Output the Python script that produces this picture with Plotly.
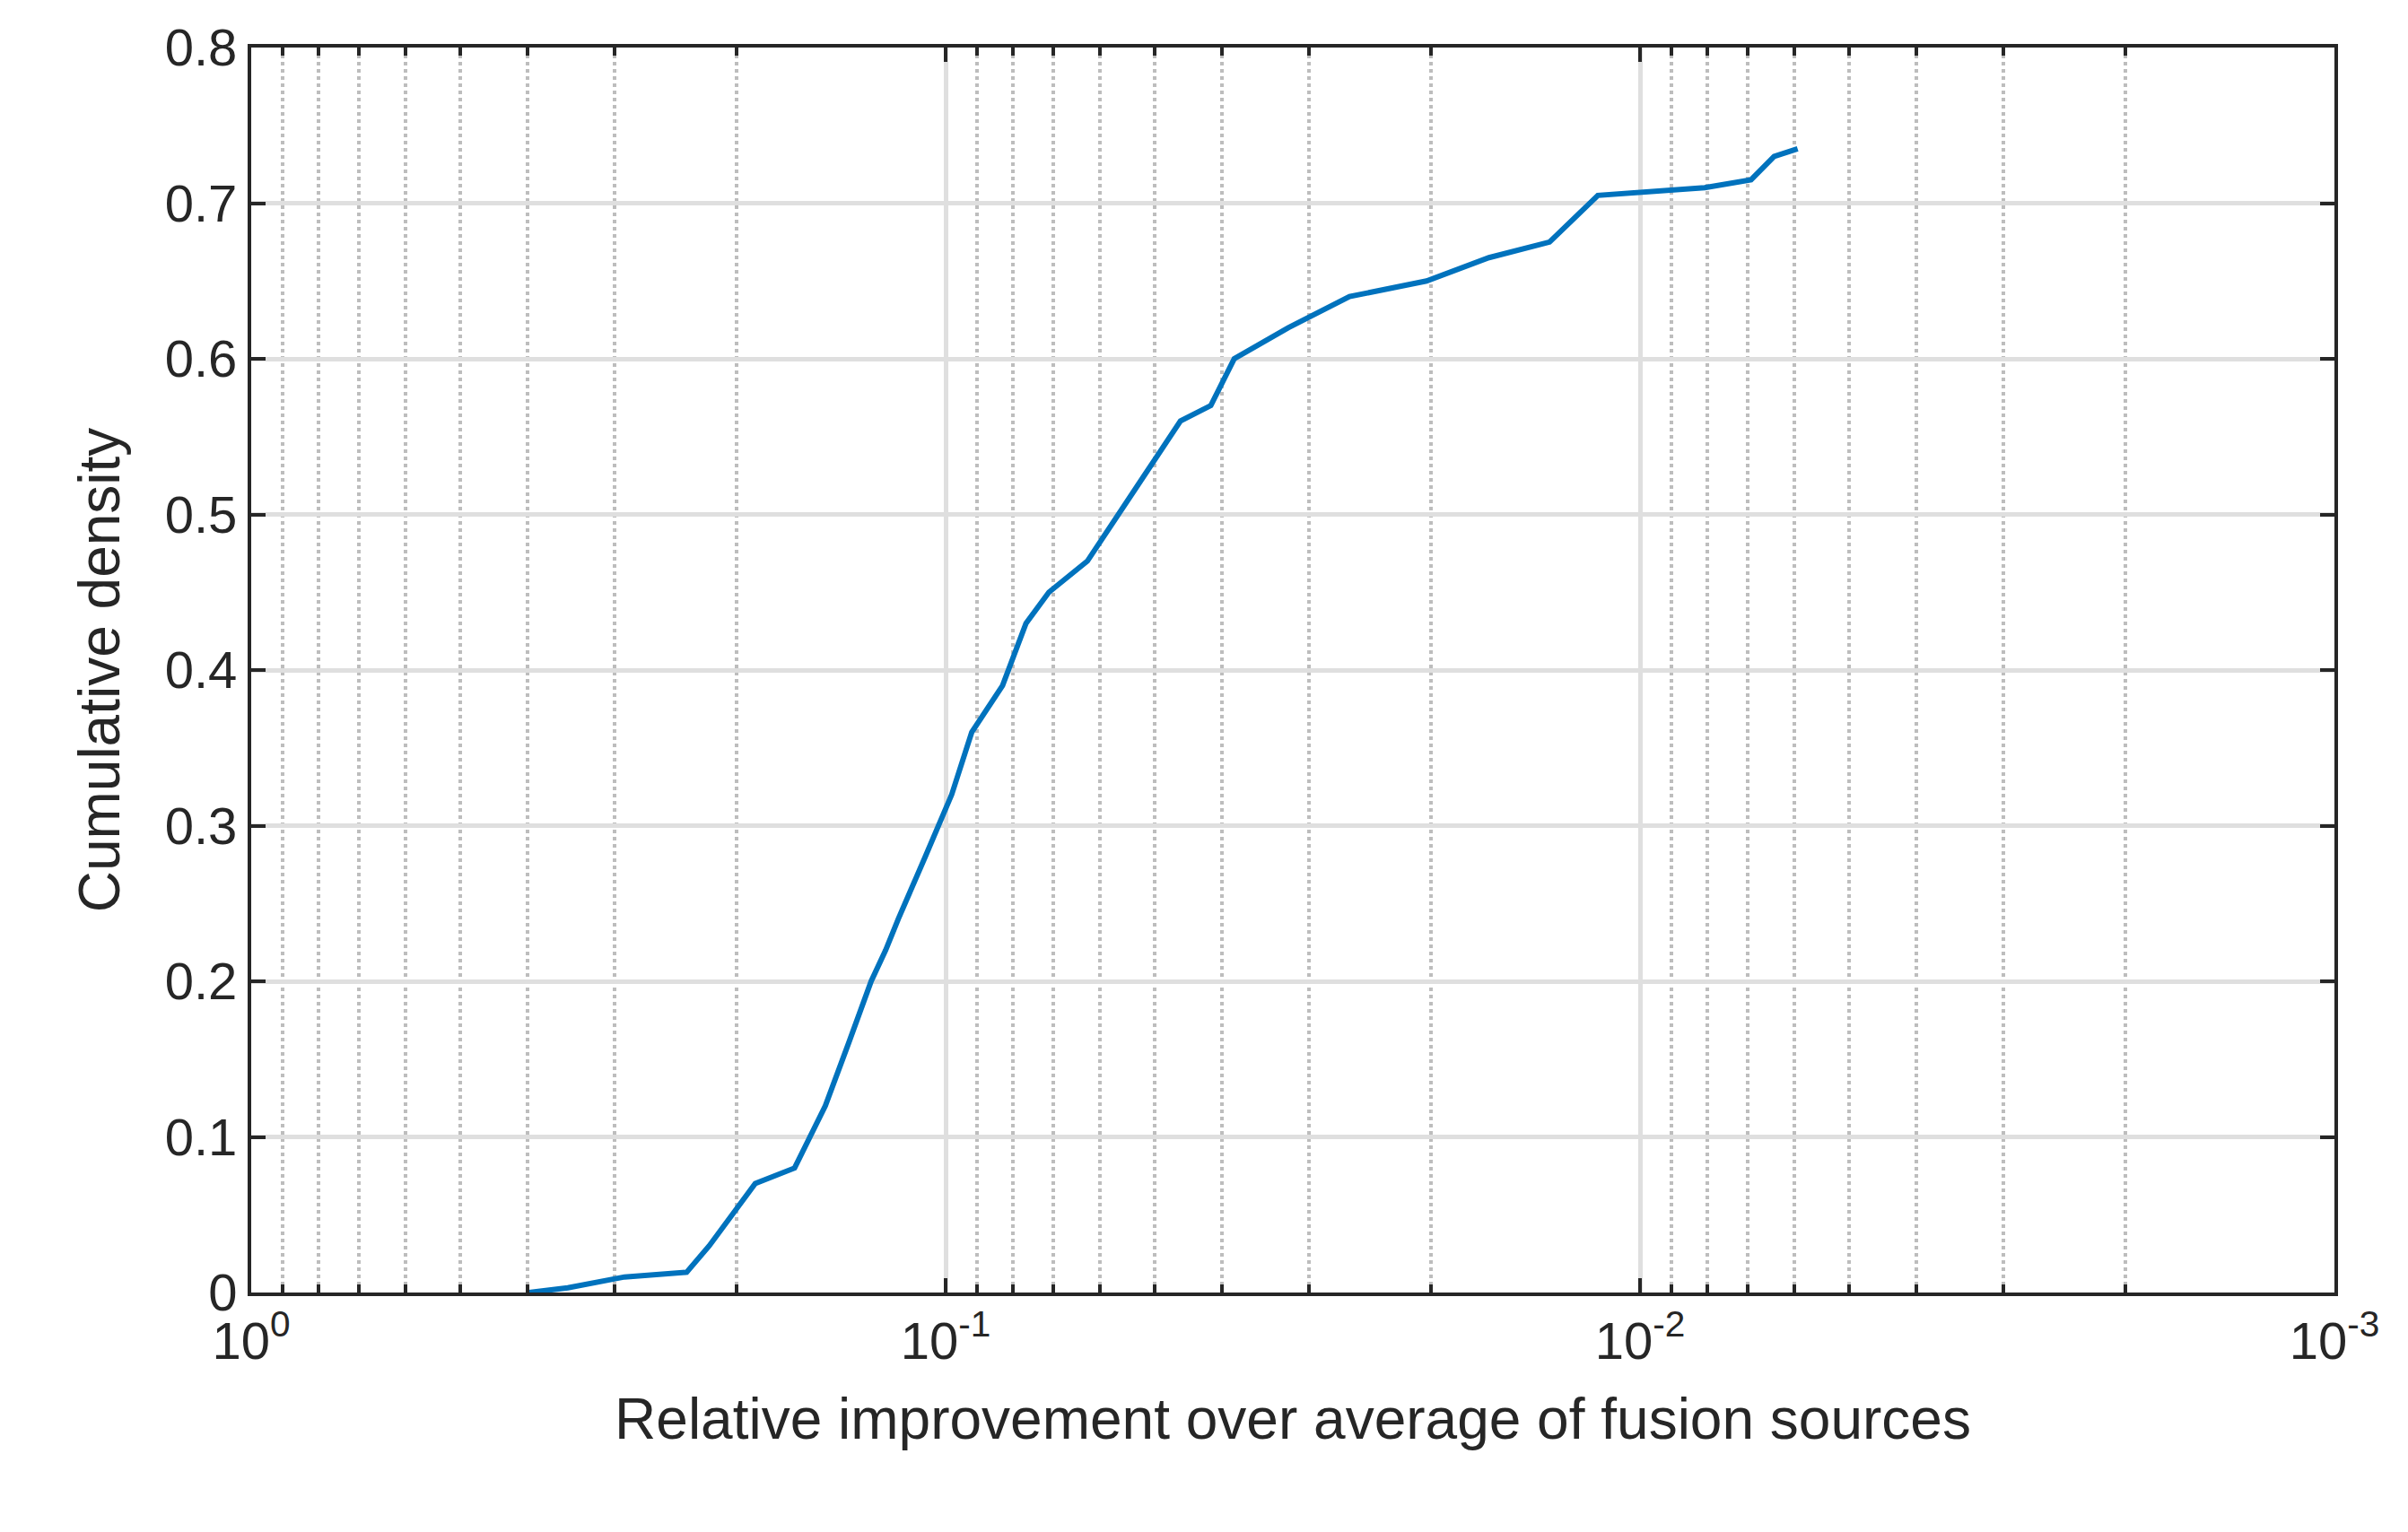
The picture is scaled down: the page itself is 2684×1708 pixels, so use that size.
import plotly.graph_objects as go

x_vals = [0.398, 0.35, 0.29, 0.236, 0.219, 0.203, 0.188, 0.165, 0.149, 0.138, 0.128, 0.122, 0.117,
          0.107, 0.098, 0.0917, 0.0828, 0.0766, 0.071, 0.0625, 0.0564, 0.0509, 0.0459, 0.0415,
          0.0384, 0.0321, 0.0262, 0.0203, 0.0165, 0.0135, 0.0115, 0.00807, 0.00692, 0.00641, 0.00593]
y_vals = [0.0, 0.003, 0.01, 0.013, 0.03, 0.05, 0.07, 0.08, 0.12, 0.16, 0.2, 0.22, 0.24,
          0.28, 0.32, 0.36, 0.39, 0.43, 0.45, 0.47, 0.5, 0.53, 0.56, 0.57,
          0.6, 0.62, 0.64, 0.65, 0.665, 0.675, 0.705, 0.71, 0.715, 0.73, 0.735]

x_ticks = [1, 0.1, 0.01, 0.001]
x_tick_text = ["10<sup>0</sup>", "10<sup>-1</sup>", "10<sup>-2</sup>", "10<sup>-3</sup>"]
y_ticks = [0, 0.1, 0.2, 0.3, 0.4, 0.5, 0.6, 0.7, 0.8]
y_tick_text = ["0", "0.1", "0.2", "0.3", "0.4", "0.5", "0.6", "0.7", "0.8"]

minor_vals = [k * 10.0 ** (-d) for d in range(1, 4) for k in range(2, 10)]

fig = go.Figure(go.Scatter(x=x_vals, y=y_vals, mode="lines",
                           line=dict(color="#0072BD", width=6)))

font = dict(family="Liberation Sans, Arial, sans-serif", color="#262626")
fig.update_layout(
    width=2684, height=1708, plot_bgcolor="white", paper_bgcolor="white",
    margin=dict(l=272, r=90, t=43, b=275), showlegend=False, font=font,
    xaxis=dict(type="log", range=[0, -3], tickvals=x_ticks, ticktext=x_tick_text,
               tickfont=dict(size=58), ticks="inside", ticklen=16, tickwidth=4, tickcolor="#262626",
               showline=True, linecolor="#262626", linewidth=4, mirror="ticks",
               showgrid=True, gridcolor="#DFDFDF", gridwidth=5, zeroline=False,
               minor=dict(tickvals=minor_vals, showgrid=True, gridcolor="#BDBDBD",
                          griddash="dot", gridwidth=4, ticks="inside", ticklen=9, tickcolor="#262626"),
               title=dict(text="Relative improvement over average of fusion sources",
                          font=dict(size=64), standoff=35)),
    yaxis=dict(range=[0, 0.8], tickvals=y_ticks, ticktext=y_tick_text,
               tickfont=dict(size=58), ticks="inside", ticklen=16, tickwidth=4, tickcolor="#262626",
               showline=True, linecolor="#262626", linewidth=4, mirror="ticks",
               showgrid=True, gridcolor="#DFDFDF", gridwidth=5, zeroline=False,
               title=dict(text="Cumulative density", font=dict(size=64), standoff=30)),
)
fig.write_html("out.html")
